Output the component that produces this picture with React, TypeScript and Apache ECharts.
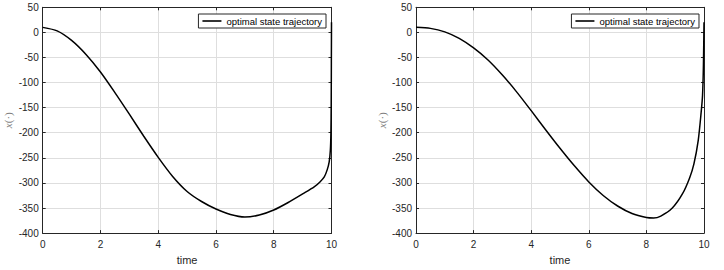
import React, { useEffect, useRef } from "react";
import * as echarts from "echarts";

const seriesName = "optimal state trajectory";

const timeLeft = [0, 0.5, 1, 1.5, 2, 2.5, 3, 3.5, 4, 4.5, 5, 5.5, 6, 6.5, 7, 7.5, 8, 8.5, 9, 9.4, 9.6, 9.75, 9.85, 9.92, 9.96, 9.98, 9.99, 9.995, 10];
const stateLeft = [10, 3, -16, -44, -79, -120, -163, -207, -249, -287, -317, -337, -352, -363, -368, -364, -354, -339, -322, -308, -298, -288, -274, -258, -235, -200, -140, -60, 20];

const timeRight = [0, 0.5, 1, 1.5, 2, 2.5, 3, 3.5, 4, 4.5, 5, 5.5, 6, 6.5, 7, 7.5, 8, 8.25, 8.5, 8.9, 9.25, 9.5, 9.65, 9.8, 9.9, 9.95, 9.98, 10];
const stateRight = [10, 8, 1, -12, -31, -55, -85, -119, -156, -194, -231, -266, -298, -325, -346, -361, -369, -370, -366, -350, -322, -290, -262, -215, -160, -125, -66, 20];

const xTicks = [0, 2, 4, 6, 8, 10];
const yTicks = [-400, -350, -300, -250, -200, -150, -100, -50, 0, 50];

const AXIS_COLOR = "#262626";
const GRID_COLOR = "#dedede";

function pairs(t: number[], v: number[]) {
  return t.map((x, i) => [x, v[i]]);
}

export default function App() {
  const ref = useRef<HTMLDivElement>(null);
  useEffect(() => {
    if (!ref.current) return;
    const chart = echarts.init(ref.current, undefined, { renderer: "svg" });
    const xMin = xTicks[0];
    const xMax = xTicks[xTicks.length - 1];
    const xInt = xTicks[1] - xTicks[0];
    const yMin = yTicks[0];
    const yMax = yTicks[yTicks.length - 1];
    const yInt = yTicks[1] - yTicks[0];

    const grids = [
      { left: 42.7, top: 7.3, width: 288.8, height: 228.4 },
      { left: 416, top: 7.3, width: 288, height: 228.4 },
    ];

    const bottomX = (gi: number) => ({
      type: "value",
      gridIndex: gi,
      position: "bottom",
      min: xMin,
      max: xMax,
      interval: xInt,
      name: "time",
      nameLocation: "middle",
      nameGap: 17,
      nameTextStyle: { fontFamily: "Liberation Sans, Arial, sans-serif", fontSize: 11, color: AXIS_COLOR },
      axisLine: { show: true, onZero: false, lineStyle: { color: AXIS_COLOR, width: 1 } },
      axisTick: { show: true, inside: true, length: 3, lineStyle: { color: AXIS_COLOR } },
      axisLabel: { show: true, margin: 6, fontFamily: "Liberation Sans, Arial, sans-serif", fontSize: 10, color: AXIS_COLOR },
      splitLine: { show: true, lineStyle: { color: GRID_COLOR, width: 1 } },
    });
    const topX = (gi: number) => ({
      type: "value",
      gridIndex: gi,
      position: "top",
      min: xMin,
      max: xMax,
      interval: xInt,
      axisLine: { show: true, onZero: false, lineStyle: { color: AXIS_COLOR, width: 1 } },
      axisTick: { show: true, inside: true, length: 3, lineStyle: { color: AXIS_COLOR } },
      axisLabel: { show: false },
      splitLine: { show: false },
    });
    const leftY = (gi: number) => ({
      type: "value",
      gridIndex: gi,
      position: "left",
      min: yMin,
      max: yMax,
      interval: yInt,
      name: "{i|x}(·)",
      nameLocation: "middle",
      nameGap: 29,
      nameRotate: 90,
      nameTextStyle: {
        fontFamily: "Liberation Serif, DejaVu Serif, serif",
        fontSize: 11,
        color: "#808080",
        rich: { i: { fontStyle: "italic", fontFamily: "Liberation Serif, DejaVu Serif, serif", fontSize: 11, color: "#808080" } },
      },
      axisLine: { show: true, onZero: false, lineStyle: { color: AXIS_COLOR, width: 1 } },
      axisTick: { show: true, inside: true, length: 3, lineStyle: { color: AXIS_COLOR } },
      axisLabel: { show: true, margin: 4, fontFamily: "Liberation Sans, Arial, sans-serif", fontSize: 10, color: AXIS_COLOR },
      splitLine: { show: true, lineStyle: { color: GRID_COLOR, width: 1 } },
    });
    const rightY = (gi: number) => ({
      type: "value",
      gridIndex: gi,
      position: "right",
      min: yMin,
      max: yMax,
      interval: yInt,
      axisLine: { show: true, onZero: false, lineStyle: { color: AXIS_COLOR, width: 1 } },
      axisTick: { show: true, inside: true, length: 3, lineStyle: { color: AXIS_COLOR } },
      axisLabel: { show: false },
      splitLine: { show: false },
    });

    const legendBase = {
      data: [{ name: seriesName, icon: "rect" }],
      top: 14,
      orient: "horizontal",
      backgroundColor: "#ffffff",
      borderColor: AXIS_COLOR,
      borderWidth: 1,
      padding: [2, 4, 2, 4],
      itemWidth: 19,
      itemHeight: 1.6,
      itemGap: 0,
      selectedMode: false,
      textStyle: { fontFamily: "Liberation Sans, Arial, sans-serif", fontSize: 9.5, color: "#000000" },
    };

    const seriesBase = {
      type: "line",
      name: seriesName,
      symbol: "none",
      showSymbol: false,
      smooth: 0.25,
      lineStyle: { color: "#000000", width: 1.5 },
      itemStyle: { color: "#000000" },
    };

    chart.setOption({
      animation: false,
      backgroundColor: "#ffffff",
      grid: grids,
      xAxis: [bottomX(0), topX(0), bottomX(1), topX(1)],
      yAxis: [leftY(0), rightY(0), leftY(1), rightY(1)],
      legend: [
        { ...legendBase, right: 398 },
        { ...legendBase, right: 25 },
      ],
      series: [
        { ...seriesBase, xAxisIndex: 0, yAxisIndex: 0, data: pairs(timeLeft, stateLeft) },
        { ...seriesBase, xAxisIndex: 2, yAxisIndex: 2, data: pairs(timeRight, stateRight) },
      ],
    });
    return () => chart.dispose();
  }, []);
  return (
    <div
      ref={ref}
      style={{ position: "absolute", left: 0, top: 0, width: 724, height: 270, background: "#fff" }}
    />
  );
}
